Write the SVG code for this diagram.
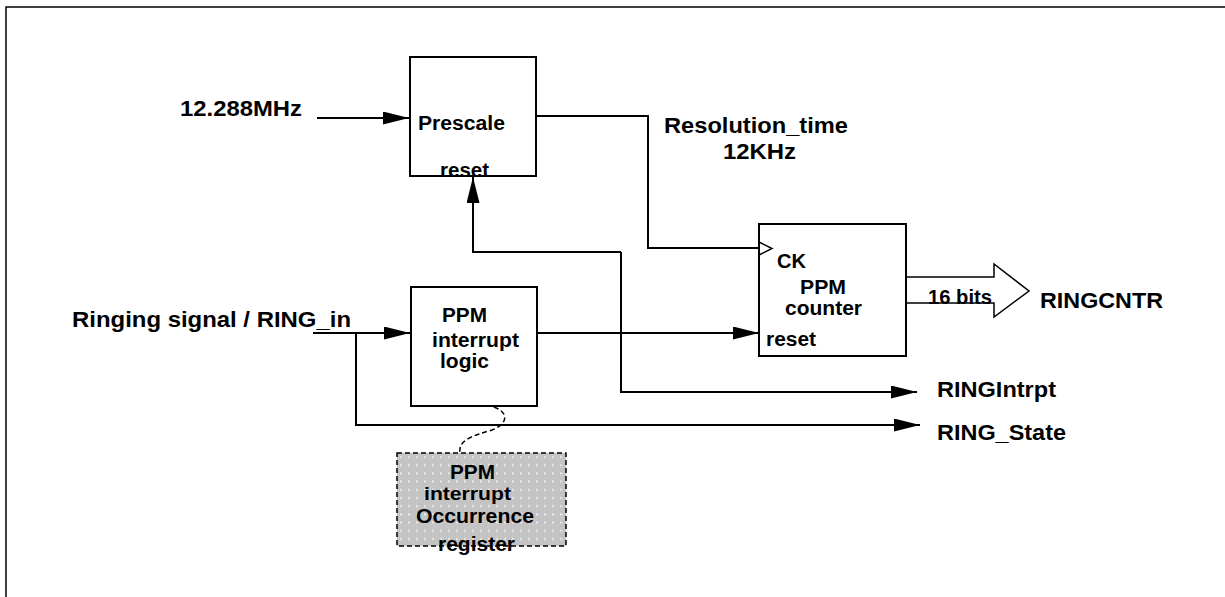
<svg xmlns="http://www.w3.org/2000/svg" width="1225" height="597" viewBox="0 0 1225 597">
  <style>
    text { font-family: "Liberation Sans", Arial, sans-serif; font-weight: bold; fill: #000; }
    .lg { font-size: 22px; }
    .sm { font-size: 20px; }
    .xs { font-size: 19px; }
    .box { fill: #fff; stroke: #000; stroke-width: 2; }
    .wire { fill: none; stroke: #000; stroke-width: 2; }
  </style>
  <defs>
    <marker id="arr" markerUnits="userSpaceOnUse" markerWidth="28" markerHeight="14" refX="26" refY="6.5" orient="auto">
      <path d="M0,0 L26,6.5 L0,13 z" fill="#000"/>
    </marker>
    <pattern id="dots" patternUnits="userSpaceOnUse" x="397" y="453" width="8" height="8.2">
      <rect width="8" height="8.2" fill="#c4c4c4"/>
      <circle cx="4" cy="4" r="1" fill="#f2f2f2"/>
    </pattern>
  </defs>
  <rect x="0" y="0" width="1225" height="597" fill="#fff"/>
  <rect id="frame" x="6" y="7" width="1240" height="620" fill="none" stroke="#000" stroke-width="1.5"/>

  <g id="connectors">
    <path class="wire" d="M317,118 H409" marker-end="url(#arr)"/>
    <path class="wire" d="M536,116 H648 V248 H759"/>
    <path class="wire" d="M621,252 H473 V177" marker-end="url(#arr)"/>
    <path class="wire" d="M621,252 V392 H917" marker-end="url(#arr)"/>
    <path class="wire" d="M537,333 H759" marker-end="url(#arr)"/>
    <path class="wire" d="M313,333 H410" marker-end="url(#arr)"/>
    <path class="wire" d="M356,333 V425 H920" marker-end="url(#arr)"/>
    <path d="M486,405 C512,410 508,424 492,430 C472,436 458,440 460,453" fill="none" stroke="#000" stroke-width="1.5" stroke-dasharray="5,3"/>
    <path d="M906,277 H994 V264 L1029,291 L994,317 V303 H906" fill="#fff" stroke="#000" stroke-width="1.5"/>
  </g>

  <g id="label-clock">
    <text class="lg" x="180" y="116" textLength="122" lengthAdjust="spacingAndGlyphs">12.288MHz</text>
  </g>
  <g id="label-ring-in">
    <text class="lg" x="72" y="327" textLength="279" lengthAdjust="spacingAndGlyphs">Ringing signal / RING_in</text>
  </g>
  <g id="label-resolution">
    <text class="lg" x="664" y="133" textLength="184" lengthAdjust="spacingAndGlyphs">Resolution_time</text>
    <text class="lg" x="723" y="159" textLength="73" lengthAdjust="spacingAndGlyphs">12KHz</text>
  </g>

  <g id="prescale">
    <rect class="box" x="410" y="57" width="126" height="119"/>
    <text class="sm" x="418" y="130" textLength="87" lengthAdjust="spacingAndGlyphs">Prescale</text>
    <text class="sm" x="440" y="177" textLength="49" lengthAdjust="spacingAndGlyphs">reset</text>
  </g>

  <g id="ppm-interrupt-logic">
    <rect class="box" x="411" y="287" width="126" height="119"/>
    <text class="sm" x="442" y="322" textLength="45" lengthAdjust="spacingAndGlyphs">PPM</text>
    <text class="sm" x="432" y="347" textLength="87" lengthAdjust="spacingAndGlyphs">interrupt</text>
    <text class="sm" x="440" y="368" textLength="49" lengthAdjust="spacingAndGlyphs">logic</text>
  </g>

  <g id="ppm-counter">
    <rect class="box" x="759" y="224" width="147" height="132"/>
    <polyline points="759,242 772,248.5 759,255" fill="none" stroke="#000" stroke-width="1.5"/>
    <text class="sm" x="777" y="268" textLength="29" lengthAdjust="spacingAndGlyphs">CK</text>
    <text class="sm" x="800" y="294" textLength="46" lengthAdjust="spacingAndGlyphs">PPM</text>
    <text class="sm" x="785" y="315" textLength="77" lengthAdjust="spacingAndGlyphs">counter</text>
    <text class="sm" x="766" y="346" textLength="50" lengthAdjust="spacingAndGlyphs">reset</text>
  </g>

  <g id="bus-label">
    <text class="sm" x="928" y="304" textLength="64" lengthAdjust="spacingAndGlyphs">16 bits</text>
  </g>
  <g id="out-ringcntr">
    <text class="lg" x="1040" y="308" textLength="123" lengthAdjust="spacingAndGlyphs">RINGCNTR</text>
  </g>
  <g id="out-ringintrpt">
    <text class="lg" x="937" y="397" textLength="119" lengthAdjust="spacingAndGlyphs">RINGIntrpt</text>
  </g>
  <g id="out-ringstate">
    <text class="lg" x="937" y="440" textLength="129" lengthAdjust="spacingAndGlyphs">RING_State</text>
  </g>

  <g id="occurrence-register">
    <rect x="397" y="453" width="169" height="93" fill="url(#dots)" stroke="#000" stroke-width="1.5" stroke-dasharray="5,3"/>
    <text class="sm" x="450" y="479" textLength="45" lengthAdjust="spacingAndGlyphs">PPM</text>
    <text class="xs" x="424" y="500" textLength="87" lengthAdjust="spacingAndGlyphs">interrupt</text>
    <text class="sm" x="416" y="523" textLength="118" lengthAdjust="spacingAndGlyphs">Occurrence</text>
    <text class="sm" x="438" y="551" textLength="77" lengthAdjust="spacingAndGlyphs">register</text>
  </g>
</svg>
